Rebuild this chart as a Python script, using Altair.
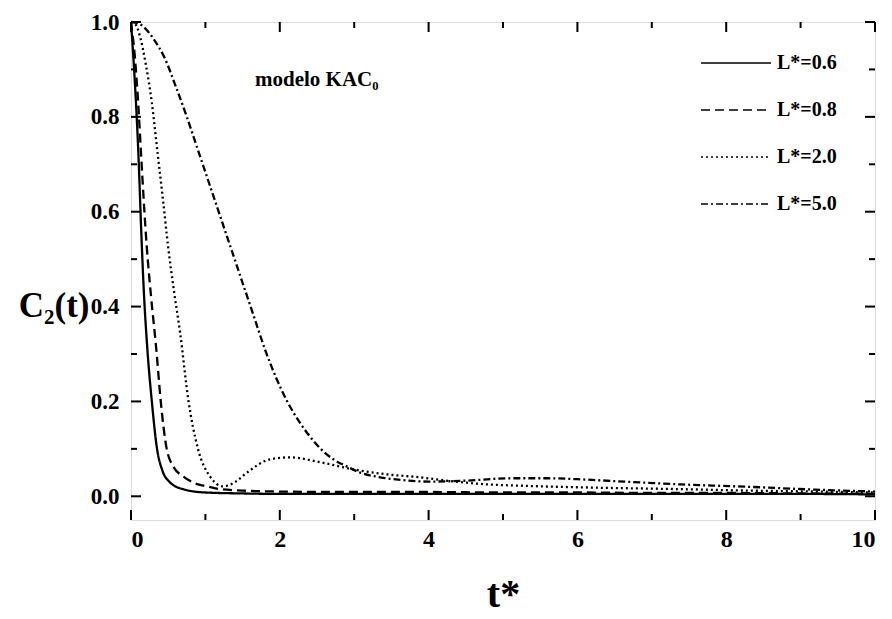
import altair as alt
import pandas as pd

# ---- data ----
series = ["L*=0.6", "L*=0.8", "L*=2.0", "L*=5.0"]

t_06 = [0.0, 0.03, 0.06, 0.1, 0.14, 0.17, 0.22, 0.28, 0.35, 0.42, 0.52, 0.7, 1.0, 1.5, 2.0, 3.0, 4.0, 5.0, 6.0, 7.0, 8.0, 9.0, 10.0]
c_06 = [1.0, 0.93, 0.85, 0.72, 0.55, 0.44, 0.31, 0.2, 0.1, 0.055, 0.03, 0.015, 0.008, 0.006, 0.005, 0.005, 0.005, 0.005, 0.005, 0.005, 0.005, 0.005, 0.004]

t_08 = [0.0, 0.05, 0.1, 0.15, 0.21, 0.27, 0.34, 0.4, 0.48, 0.58, 0.7, 0.85, 1.02, 1.2, 1.5, 2.0, 3.0, 4.0, 5.0, 6.0, 7.0, 8.0, 9.0, 10.0]
c_08 = [1.0, 0.93, 0.82, 0.68, 0.53, 0.42, 0.31, 0.2, 0.1, 0.06, 0.042, 0.028, 0.021, 0.015, 0.012, 0.01, 0.009, 0.009, 0.008, 0.008, 0.007, 0.007, 0.006, 0.005]

t_20 = [0.0, 0.06, 0.12, 0.2, 0.28, 0.36, 0.43, 0.5, 0.58, 0.66, 0.77, 0.9, 1.06, 1.24, 1.4, 1.56, 1.87, 2.14, 2.54, 2.98, 3.4, 3.88, 4.3, 4.7, 5.3, 6.0, 7.4, 8.3, 9.2, 10.0]
c_20 = [1.0, 0.995, 0.97, 0.91, 0.83, 0.72, 0.625, 0.525, 0.43, 0.345, 0.204, 0.1, 0.042, 0.021, 0.03, 0.05, 0.078, 0.082, 0.072, 0.057, 0.047, 0.04, 0.032, 0.026, 0.022, 0.019, 0.015, 0.012, 0.01, 0.008]

t_50 = [0.0, 0.1, 0.2, 0.3, 0.45, 0.6, 0.75, 0.9, 1.05, 1.2, 1.35, 1.5, 1.65, 1.8, 1.95, 2.1, 2.25, 2.4, 2.55, 2.72, 2.9, 3.08, 3.35, 3.66, 4.0, 4.5, 5.1, 5.6, 6.0, 6.5, 7.4, 8.3, 9.2, 10.0]
c_50 = [1.0, 0.997, 0.985, 0.965, 0.925, 0.865, 0.8, 0.73, 0.66, 0.59, 0.52, 0.45, 0.38, 0.31, 0.25, 0.2, 0.16, 0.127, 0.1, 0.078, 0.063, 0.05, 0.04, 0.034, 0.031, 0.033, 0.038, 0.038, 0.036, 0.032, 0.025, 0.02, 0.014, 0.01]

x_major = [0, 2, 4, 6, 8, 10]
x_minor = [1, 3, 5, 7, 9]
y_major = [0.0, 0.2, 0.4, 0.6, 0.8, 1.0]
y_minor = [0.1, 0.3, 0.5, 0.7, 0.9]

annotation = "modelo KAC\u2080"
y_title = "C\u2082(t)"
x_title = "t*"

# ---- tables ----
rows = []
for name, ts, cs in zip(series, [t_06, t_08, t_20, t_50], [c_06, c_08, c_20, c_50]):
    for t, c in zip(ts, cs):
        rows.append({"t": t, "C": c, "serie": name})
df = pd.DataFrame(rows)

FONT = "Liberation Serif"
W, H = 744, 498
TICK_COLOR = "black"

xscale = alt.Scale(domain=[0, 10], nice=False, zero=False)
yscale = alt.Scale(domain=[-0.05, 1.0], nice=False, zero=False)

lines = alt.Chart(df).mark_line(color="black", strokeWidth=2.3, interpolate="monotone").encode(
    x=alt.X("t:Q", scale=xscale,
            axis=alt.Axis(values=x_major, format="d", title=x_title, ticks=False, tickSize=0,
                          domain=False, grid=False, labelPadding=7, labelFontSize=24,
                          labelFont=FONT, labelFontWeight="bold", labelColor="black",
                          titleFont=FONT, titleFontSize=40, titleFontWeight="bold",
                          titleColor="black", titleY=86, titleBaseline="alphabetic")),
    y=alt.Y("C:Q", scale=yscale,
            axis=alt.Axis(values=y_major, format=".1f", title=y_title, ticks=False, tickSize=0,
                          domain=False, grid=False, labelPadding=12, labelFontSize=23,
                          labelFont=FONT, labelFontWeight="bold", labelColor="black",
                          titleFont=FONT, titleFontSize=35, titleFontWeight="bold",
                          titleColor="black", titleAngle=0, titleAlign="right",
                          titleBaseline="middle", titleX=-42, titleY=283)),
    strokeDash=alt.StrokeDash(
        "serie:N",
        scale=alt.Scale(domain=series, range=[[1, 0], [9, 5], [2, 3], [7, 3, 2, 3]]),
        legend=alt.Legend(orient="none", legendX=569, legendY=5, title=None,
                          symbolType="stroke", symbolSize=4900, symbolStrokeWidth=1.5,
                          symbolStrokeColor="black", labelFont=FONT, labelFontSize=20,
                          labelFontWeight="bold", labelColor="black", labelOffset=5,
                          rowPadding=1)),
    detail="serie:N",
)

xt_major = pd.DataFrame({"t": x_major})
xt_minor = pd.DataFrame({"t": x_minor})
yt_major = pd.DataFrame({"C": y_major})
yt_minor = pd.DataFrame({"C": y_minor})

def xticks(d, length):
    bottom = alt.Chart(d).mark_rule(color=TICK_COLOR, strokeWidth=2).encode(
        x=alt.X("t:Q", scale=xscale), y=alt.value(H), y2=alt.value(H - length))
    top = alt.Chart(d).mark_rule(color=TICK_COLOR, strokeWidth=2).encode(
        x=alt.X("t:Q", scale=xscale), y=alt.value(0), y2=alt.value(length))
    return bottom + top

def yticks(d, length):
    left = alt.Chart(d).mark_rule(color=TICK_COLOR, strokeWidth=2).encode(
        y=alt.Y("C:Q", scale=yscale), x=alt.value(0), x2=alt.value(length))
    right = alt.Chart(d).mark_rule(color=TICK_COLOR, strokeWidth=2).encode(
        y=alt.Y("C:Q", scale=yscale), x=alt.value(W), x2=alt.value(W - length))
    return left + right

note = alt.Chart(pd.DataFrame({"txt": [annotation]})).mark_text(
    font=FONT, fontSize=21, fontWeight="bold", align="left", baseline="middle", color="black"
).encode(x=alt.value(124), y=alt.value(58), text="txt:N")

chart = alt.layer(
    lines,
    xticks(xt_major, 10), xticks(xt_minor, 6),
    yticks(yt_major, 10), yticks(yt_minor, 6),
    note,
).properties(
    width=W, height=H,
    autosize=alt.AutoSizeParams(type="none"),
    padding={"left": 131, "top": 22, "right": 17, "bottom": 99},
).configure_view(
    stroke="black", strokeWidth=2.5
).configure(background="white")

chart.save("out.html", embed_options={"renderer": "svg", "actions": False})
